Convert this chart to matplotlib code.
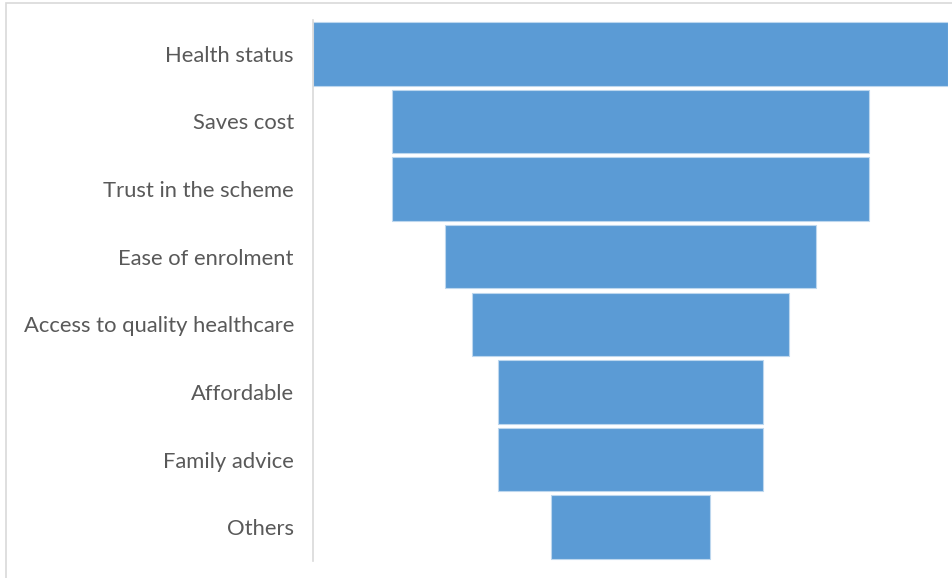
import matplotlib
matplotlib.use("Agg")
import matplotlib.pyplot as plt
from matplotlib.patches import Rectangle

plt.rcParams["font.family"] = ["Lato", "DejaVu Sans"]

categories = ["Health status", "Saves cost", "Trust in the scheme", "Ease of enrolment",
              "Access to quality healthcare", "Affordable", "Family advice", "Others"]
values = [24, 18, 18, 14, 12, 10, 10, 6]

W, H = 953, 578
fig = plt.figure(figsize=(W / 100, H / 100), dpi=100)
ax = fig.add_axes([313 / W, 1 - 561 / H, (948 - 313) / W, (561 - 20) / H])

ypos = list(range(len(categories)))
left = [-v / 2 for v in values]
ax.barh(ypos, values, left=left, height=0.94, color="#5b9bd5",
        edgecolor="#bdd7ee", linewidth=0.8)

ax.set_xlim(-12, 12)
ax.set_ylim(len(categories) - 0.5, -0.5)
ax.set_yticks(ypos)
ax.set_yticklabels(categories, fontsize=15.8, color="#595959")
ax.tick_params(axis="y", length=0, pad=13.7)
ax.set_xticks([])
for s in ["top", "right", "bottom"]:
    ax.spines[s].set_visible(False)
ax.spines["left"].set_color("#d9d9d9")
ax.spines["left"].set_linewidth(1.2)

# chart area frame, cut off on the right and bottom
fig.patches.append(Rectangle((6 / W, -0.1), 1.2, 1 - 3 / H + 0.1,
                             transform=fig.transFigure, fill=False,
                             edgecolor="#d9d9d9", linewidth=1.2))

fig.savefig("out.png", dpi=100)
